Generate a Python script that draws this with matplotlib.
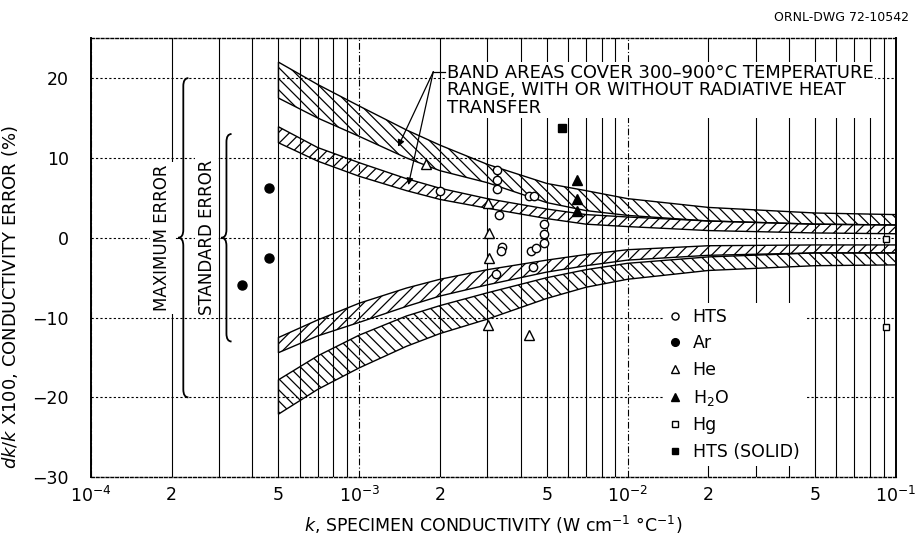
import matplotlib
matplotlib.use("Agg")
import matplotlib.pyplot as plt
import numpy as np
from matplotlib.path import Path
from matplotlib.patches import PathPatch
from matplotlib.ticker import LogLocator, NullFormatter

# band boundaries (k in W/cm/C, error in %)
band_k = [5e-4, 7e-4, 1e-3, 1.5e-3, 2e-3, 3e-3, 5e-3, 7e-3, 1e-2, 2e-2, 5e-2, 1e-1]
max_up_top = [22.0, 19.2, 16.5, 13.5, 11.6, 9.2, 6.8, 5.9, 4.9, 3.8, 3.1, 2.9]
max_up_bot = [17.5, 15.0, 12.7, 10.0, 8.4, 6.9, 4.4, 3.4, 2.8, 2.1, 1.7, 1.6]
std_up_top = [13.9, 11.3, 9.4, 7.4, 6.2, 4.9, 3.6, 2.9, 2.6, 2.1, 1.7, 1.6]
std_up_bot = [11.9, 9.6, 7.7, 5.9, 4.8, 3.7, 2.4, 1.7, 1.4, 0.9, 0.6, 0.5]
std_lo_top = [-12.5, -10.3, -8.2, -6.3, -5.2, -4.0, -2.8, -2.1, -1.5, -1.0, -0.9, -0.9]
std_lo_bot = [-14.4, -12.3, -10.6, -8.6, -7.3, -5.9, -4.3, -3.5, -2.8, -2.2, -1.9, -1.9]
max_lo_top = [-17.8, -14.8, -12.2, -9.8, -8.5, -6.9, -5.0, -4.0, -3.2, -2.4, -1.9, -1.9]
max_lo_bot = [-22.1, -19.0, -16.3, -13.6, -12.0, -10.2, -7.6, -6.2, -5.2, -4.1, -3.5, -3.4]

# measured points
hts_k = [2.0e-3, 3.25e-3, 3.25e-3, 3.27e-3, 3.33e-3, 4.3e-3, 4.48e-3, 4.88e-3, 4.88e-3,
         4.88e-3, 3.39e-3, 3.37e-3, 4.36e-3, 4.54e-3, 4.45e-3, 3.24e-3]
hts_err = [5.8, 8.5, 7.25, 6.1, 2.9, 5.2, 5.2, 1.7, 0.5, -0.6, -1.1, -1.7, -1.6, -1.3, -3.7, -4.6]
ar_k = [3.65e-4, 4.6e-4, 4.6e-4]
ar_err = [-5.9, 6.2, -2.5]
he_k = [1.78e-3, 3.03e-3, 3.05e-3, 3.05e-3, 3.03e-3, 4.3e-3]
he_err = [9.3, 4.3, 0.6, -2.5, -10.9, -12.2]
h2o_k = [6.46e-3, 6.46e-3, 6.46e-3]
h2o_err = [7.2, 4.8, 3.3]
hg_k = [9.15e-2, 9.15e-2]
hg_err = [-0.1, -11.2]
solid_k = [5.68e-3]
solid_err = [13.7]

# error braces: (k position, half span)
brace_k = [2.21e-4, 3.2e-4]
brace_span = [20, 13]
brace_text_k = [1.84e-4, 2.7e-4]
brace_text = ["MAXIMUM ERROR", "STANDARD ERROR"]

x_ticks = [1e-4, 2e-4, 5e-4, 1e-3, 2e-3, 5e-3, 1e-2, 2e-2, 5e-2, 1e-1]
x_labels = ["10$^{-4}$", "2", "5", "10$^{-3}$", "2", "5", "10$^{-2}$", "2", "5", "10$^{-1}$"]


def draw_brace(ax, x, half, w=0.019, h=1.0):
    lx = np.log10(x)
    pts = [(lx + w, half), (lx, half), (lx, half - h),
           (lx, h), (lx, 0), (lx - w, 0),
           (lx, 0), (lx, -h),
           (lx, -half + h), (lx, -half), (lx + w, -half)]
    codes = [Path.MOVETO, Path.CURVE3, Path.CURVE3, Path.LINETO, Path.CURVE3, Path.CURVE3,
             Path.CURVE3, Path.CURVE3, Path.LINETO, Path.CURVE3, Path.CURVE3]
    verts = [(10 ** a, b) for a, b in pts]
    ax.add_patch(PathPatch(Path(verts, codes), fill=False, lw=1.3, color="black", zorder=4))


plt.rcParams["hatch.linewidth"] = 0.9
fig = plt.figure(figsize=(9.18, 5.38), dpi=100)
ax = fig.add_axes([0.099, 0.113, 0.877, 0.816])
ax.set_xscale("log")
ax.set_xlim(1e-4, 1e-1)
ax.set_ylim(-30, 25)

# hatched bands
for top, bot, hatch in [(max_up_top, max_up_bot, "\\\\\\"), (std_up_top, std_up_bot, "///"),
                        (std_lo_top, std_lo_bot, "///"), (max_lo_top, max_lo_bot, "\\\\\\")]:
    ax.fill_between(band_k, bot, top, facecolor="none", edgecolor="black",
                    hatch=hatch, lw=1.0, zorder=2)

# points
ax.plot(hts_k, hts_err, "o", ms=6, mfc="white", mec="black", mew=1.0, label="HTS", zorder=5)
ax.plot(ar_k, ar_err, "o", ms=6.5, color="black", label="Ar", zorder=5)
ax.plot(he_k, he_err, "^", ms=6.5, mfc="white", mec="black", mew=1.0, label="He", zorder=5)
ax.plot(h2o_k, h2o_err, "^", ms=7, color="black", label="H$_2$O", zorder=5)
ax.plot(hg_k, hg_err, "s", ms=5, mfc="white", mec="black", mew=1.0, label="Hg", zorder=5)
ax.plot(solid_k, solid_err, "s", ms=5.5, color="black", label="HTS (SOLID)", zorder=5)

# braces and their labels
for bk, hs, tk, txt in zip(brace_k, brace_span, brace_text_k, brace_text):
    draw_brace(ax, bk, hs)
    ax.text(tk, 0, txt, rotation=90, ha="center", va="center", fontsize=12,
            bbox=dict(facecolor="white", edgecolor="none", pad=2), zorder=4)

# band note with arrows
ax.text(2.12e-3, 21.8, "BAND AREAS COVER 300–900°C TEMPERATURE\nRANGE, WITH OR WITHOUT RADIATIVE HEAT\nTRANSFER",
        ha="left", va="top", fontsize=13, linespacing=0.97,
        bbox=dict(facecolor="white", edgecolor="none", pad=1), zorder=4)
ax.plot([1.888e-3, 2.08e-3], [20.8, 20.8], color="black", lw=0.9, zorder=4)
for tip in [(1.395e-3, 11.4), (1.524e-3, 6.6)]:
    ax.annotate("", xy=tip, xytext=(1.888e-3, 20.8),
                arrowprops=dict(arrowstyle="-|>", color="black", lw=0.9,
                                mutation_scale=10, shrinkA=0, shrinkB=0), zorder=4)

# axes styling
ax.set_xticks(x_ticks)
ax.set_xticklabels(x_labels)
ax.xaxis.set_minor_locator(LogLocator(base=10, subs=np.arange(2, 10)))
ax.xaxis.set_minor_formatter(NullFormatter())
ax.set_yticks(np.arange(-30, 21, 10))
ax.tick_params(axis="both", which="both", length=0, labelsize=12.5)
ax.tick_params(axis="y", pad=16)
ax.tick_params(axis="x", pad=6)

ax.grid(True, which="minor", axis="x", color="black", lw=0.8, ls="-")
ax.grid(True, which="major", axis="x", color="black", lw=0.8, ls="-")
for line, t in zip(ax.get_xgridlines(), x_ticks):
    if np.isclose(np.log10(t), round(np.log10(t))):
        line.set_linestyle((0, (6, 2, 1, 2)))
ax.grid(True, which="major", axis="y", color="black", lw=0.8, ls=(0, (2, 2)))

for side in ["left", "right"]:
    ax.spines[side].set_linewidth(1.4)
for side in ["top", "bottom"]:
    ax.spines[side].set_linestyle((0, (2, 1.5)))
    ax.spines[side].set_linewidth(1.0)

ax.set_xlabel("$k$, SPECIMEN CONDUCTIVITY (W cm$^{-1}$ °C$^{-1}$)", fontsize=12.5, labelpad=6)
ax.set_ylabel("$dk/k$ X100, CONDUCTIVITY ERROR (%)", fontsize=13)
ax.yaxis.set_label_coords(-0.088, 0.41)

leg = ax.legend(loc="lower left", bbox_to_anchor=(0.7, 0.005), frameon=True, fontsize=12.5,
                handlelength=0.8, handletextpad=0.6, labelspacing=0.5, borderpad=0.3,
                markerscale=0.85)
leg.get_frame().set_facecolor("white")
leg.get_frame().set_edgecolor("none")
leg.get_frame().set_alpha(1)
leg.set_zorder(6)

fig.text(0.99, 0.967, "ORNL-DWG 72-10542", ha="right", va="center", fontsize=9)

fig.savefig("out.png", dpi=100)
